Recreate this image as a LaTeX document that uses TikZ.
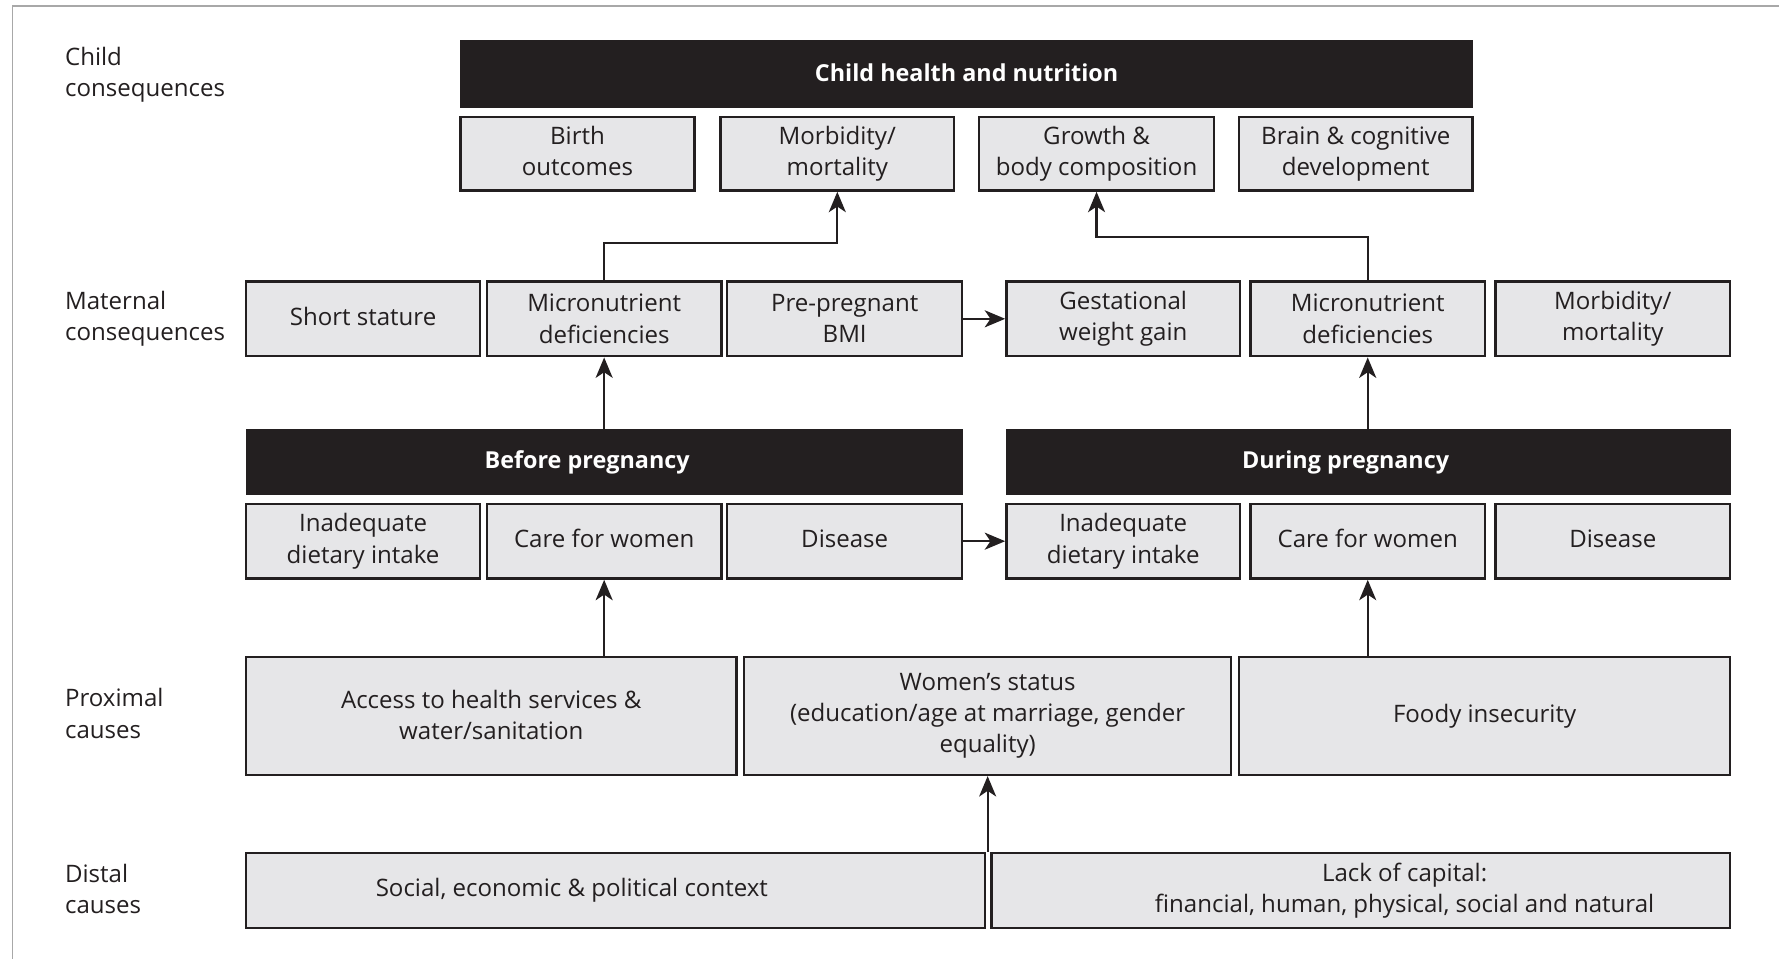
\documentclass[tikz,border=0pt]{standalone}
\usepackage{fontspec}
\setmainfont{Open Sans}
\usetikzlibrary{arrows.meta}

\definecolor{ink}{HTML}{231F20}
\definecolor{boxfill}{HTML}{E6E6E8}
\definecolor{framegray}{HTML}{A8A8A8}

% style, name, x1, y1, x2, y2, text  (corners in drawing units)
\newcommand\placebox[7]{%
  \pgfmathsetmacro\BoxW{(#5-#3)/2}%
  \pgfmathsetmacro\BoxH{(#6-#4)/2}%
  \node[#1, minimum width=\BoxW pt, minimum height=\BoxH pt] (#2) at ({(#3+#5)/2},{(#4+#6)/2}) {#7};%
}
% keeps a line's depth equal to one with descenders
\newcommand\descdepth{\vphantom{y}}

\tikzset{
  graybox/.style={draw=ink, fill=boxfill, line width=1.05pt, inner sep=0pt, align=center,
    text=ink, font=\fontsize{10.6}{13.75}\selectfont},
  blackbox/.style={draw=ink, fill=ink, line width=0.6pt, inner sep=0pt, align=center,
    text=white, font=\fontsize{10.3}{13}\selectfont\bfseries},
  sidelabel/.style={anchor=west, align=left, text=ink, inner sep=0pt,
    font=\fontsize{10.6}{13.9}\selectfont},
  arr/.style={draw=ink, line width=0.95pt, -{Stealth[length=9pt, width=7.5pt, inset=2.5pt]}},
}

\begin{document}
\begin{tikzpicture}[x=0.5pt, y=-0.5pt]
  \useasboundingbox (0,0) rectangle (1568,845);

  % outer frame (top and left edges only)
  \draw[framegray, line width=0.8pt] (11,845) -- (11,5) -- (1568,5);

  % row labels
  \node[sidelabel] (lchild) at (57,66)    {Child\\consequences};
  \node[sidelabel] (lmat)   at (57,281)   {Maternal\\consequences};
  \node[sidelabel] (lprox)  at (57,629)   {Proximal\\causes};
  \node[sidelabel] (ldist)  at (57,783.5) {Distal\\causes};

  % child consequences
  \placebox{blackbox}{chn}{406}{36}{1298}{95}{\raisebox{1.8pt}{Child health and nutrition}}
  \placebox{graybox}{birth}{406}{103}{612}{168}{Birth\\outcomes\descdepth}
  \placebox{graybox}{cmorb}{635}{103}{841}{168}{Morbidity/\\mortality}
  \placebox{graybox}{growth}{863}{103}{1070}{168}{Growth \&\\body composition}
  \placebox{graybox}{brain}{1092}{103}{1298}{168}{Brain \& cognitive\\development}

  % maternal consequences
  \placebox{graybox}{stat}{217}{248}{423}{314}{Short stature\descdepth}
  \placebox{graybox}{micA}{429}{248}{636}{314}{Micronutrient\\deficiencies}
  \placebox{graybox}{bmi}{641}{248}{848}{314}{Pre-pregnant\\BMI}
  \placebox{graybox}{gwg}{887}{248}{1093}{314}{Gestational\\weight gain}
  \placebox{graybox}{micB}{1102}{248}{1309}{314}{Micronutrient\\deficiencies}
  \placebox{graybox}{mmorb}{1318}{248}{1525}{314}{Morbidity/\\mortality}

  % before / during pregnancy
  \placebox{blackbox}{before}{217}{379}{848}{436}{Before pregnancy\hspace*{15pt}}
  \placebox{blackbox}{during}{887}{379}{1525}{436}{During pregnancy\hspace*{20pt}}
  \placebox{graybox}{dietA}{217}{444}{423}{510}{Inadequate\\dietary intake}
  \placebox{graybox}{careA}{429}{444}{636}{510}{Care for women\descdepth}
  \placebox{graybox}{disA}{641}{444}{848}{510}{Disease\descdepth}
  \placebox{graybox}{dietB}{887}{444}{1093}{510}{Inadequate\\dietary intake}
  \placebox{graybox}{careB}{1102}{444}{1309}{510}{Care for women\descdepth}
  \placebox{graybox}{disB}{1318}{444}{1525}{510}{Disease\descdepth}

  % proximal causes
  \placebox{graybox}{access}{217}{579}{649}{683}{\raisebox{1pt}{Access to health services \&}\\\raisebox{1pt}{water/sanitation}}
  \placebox{graybox}{women}{656}{579}{1085}{683}{Women’s status\\(education/age at marriage, gender\\equality)}
  \placebox{graybox}{food}{1092}{579}{1525}{683}{Foody insecurity}

  % distal causes (texts set off-centre within their boxes)
  \placebox{graybox}{context}{217}{752}{868}{818}{Social, economic \& political context\hspace*{38.5pt}}
  \placebox{graybox}{capital}{874}{752}{1525}{818}{\hspace*{38.5pt}Lack of capital:\\\hspace*{38.5pt}financial, human, physical, social and natural}

  % connectors
  \coordinate (bendA) at (0,214);
  \coordinate (bendB) at (0,209);
  \draw[arr] (micA.north) -- (micA.north |- bendA) -| (cmorb.south);
  \draw[arr] (micB.north) -- (micB.north |- bendB) -| (growth.south);
  \draw[arr] (bmi.east) -- (gwg.west);
  \draw[arr] (disA.east) -- (dietB.west);
  \draw[arr] (micA.south |- before.north) -- (micA.south);
  \draw[arr] (micB.south |- during.north) -- (micB.south);
  \draw[arr] (careA.south |- access.north) -- (careA.south);
  \draw[arr] (careB.south |- food.north) -- (careB.south);
  \draw[arr] (women.south |- context.north) -- (women.south);
\end{tikzpicture}
\end{document}
